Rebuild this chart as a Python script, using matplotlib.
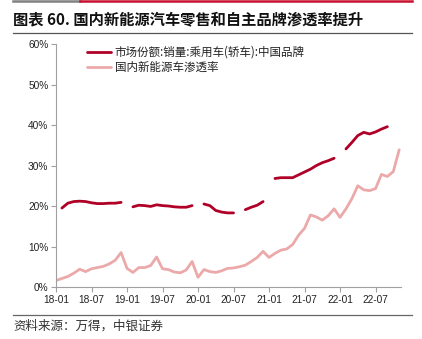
import numpy as np
import matplotlib.pyplot as plt
from matplotlib.lines import Line2D

plt.rcParams['font.family'] = ['Liberation Sans', 'Noto Sans CJK SC', 'DejaVu Sans']

# monthly, 18-01 .. 22-11
months = [f"{y:02d}-{m:02d}" for y in range(18, 23) for m in range(1, 13)][:59]

# 市场份额:销量:乘用车(轿车):中国品牌 (%), nan = no data
share = [np.nan, 19.5, 20.7, 21.1, 21.2, 21.1, 20.8, 20.6, 20.6, 20.7, 20.7, 20.9,
         np.nan, 19.8, 20.2, 20.1, 19.9, 20.3, 20.1, 20.0, 19.8, 19.7, 19.7, 20.1,
         np.nan, 20.5, 20.1, 18.9, 18.5, 18.3, 18.3, np.nan, 19.1, 19.7, 20.2, 21.1,
         np.nan, 26.8, 27.0, 27.0, 27.0, 27.7, 28.4, 29.1, 30.0, 30.7, 31.2, 31.8,
         np.nan, 34.1, 35.7, 37.4, 38.2, 37.8, 38.3, 39.0, 39.6, np.nan, np.nan]

# 国内新能源车渗透率 (%)
nev = [1.6, 2.1, 2.6, 3.4, 4.4, 3.8, 4.5, 4.8, 5.1, 5.7, 6.6, 8.5,
       4.6, 3.6, 4.8, 4.8, 5.3, 7.4, 4.5, 4.3, 3.7, 3.5, 4.2, 6.3,
       2.4, 4.3, 3.8, 3.6, 4.0, 4.6, 4.7, 5.0, 5.4, 6.3, 7.3, 8.8,
       7.3, 8.3, 9.1, 9.4, 10.5, 12.8, 14.5, 17.8, 17.3, 16.5, 17.6, 19.3,
       17.2, 19.3, 21.8, 25.0, 24.0, 23.8, 24.3, 27.8, 27.3, 28.5, 33.9]

x = np.arange(len(months))

fig = plt.figure(figsize=(4.22, 3.39), dpi=100)
ax = fig.add_axes([0.1327, 0.1534, 0.8175, 0.7166])

ax.plot(x, share, color='#B00027', lw=2.0, solid_capstyle='round',
        label='市场份额:销量:乘用车(轿车):中国品牌')
ax.plot(x, nev, color='#EBA9A9', lw=2.0, solid_capstyle='round',
        label='国内新能源车渗透率')

ax.set_xlim(0, 58.3)
ax.set_ylim(0, 60)
ax.set_yticks(range(0, 61, 10))
ax.set_yticklabels([f"{v}%" for v in range(0, 61, 10)])
ax.set_xticks(x[::6])
ax.set_xticklabels(months[::6])
ax.tick_params(labelsize=7.3, color='#A0A0A0', length=3.5, width=0.8, pad=2,
               labelcolor='#222222')
for s in ['top', 'right']:
    ax.spines[s].set_visible(False)
for s in ['left', 'bottom']:
    ax.spines[s].set_color('#A0A0A0')
    ax.spines[s].set_linewidth(0.8)

leg = ax.legend(loc='upper left', bbox_to_anchor=(0.06, 1.035), frameon=False,
                fontsize=8.3, handlelength=2.1, handletextpad=0.3,
                labelspacing=0.15)
for t in leg.get_texts():
    t.set_fontfamily(['Noto Sans CJK SC', 'DejaVu Sans'])
    t.set_color('#222222')

# header / footer decorations
fig.add_artist(Line2D([13 / 422, 80 / 422], [1 - 1 / 339] * 2, color='#808080', lw=1.8))
fig.add_artist(Line2D([80 / 422, 412 / 422], [1 - 1 / 339] * 2, color='#C8102E', lw=1.8))
fig.add_artist(Line2D([13 / 422, 412 / 422], [1 - 33 / 339] * 2, color='#555555', lw=0.9))
fig.add_artist(Line2D([13 / 422, 412 / 422], [1 - 315 / 339] * 2, color='#666666', lw=0.9))

fig.text(13 / 422, 1 - 19 / 339, '图表 60. 国内新能源汽车零售和自主品牌渗透率提升',
         fontsize=11.0, fontweight='bold', va='center', ha='left',
         family=['Noto Sans CJK SC', 'DejaVu Sans'], color='#111111')
fig.text(13 / 422, 1 - 326 / 339, '资料来源：万得，中银证券', fontsize=9,
         va='center', ha='left', style='italic',
         family=['Noto Sans CJK SC', 'DejaVu Sans'], color='#333333')

fig.savefig('out.png', dpi=100)
